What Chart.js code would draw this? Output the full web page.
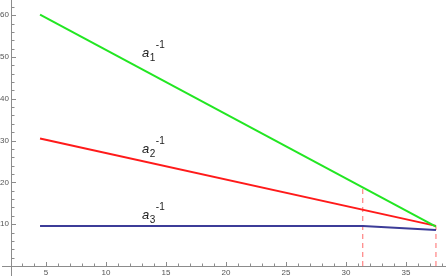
<!DOCTYPE html>
<html><head><meta charset="utf-8">
<script src="https://cdn.jsdelivr.net/npm/chart.js@4"></script>
<style>html,body{margin:0;padding:0;background:#fff}#wrap{width:446px;height:276px}</style>
</head><body><div id="wrap"><canvas id="c"></canvas></div>
<script>
// data (x = log10 scale, y = inverse coupling)
const a1X = [4.5, 37.5];        const a1Y = [60.1, 9.4];
const a2X = [4.5, 37.5];        const a2Y = [30.5, 9.6];
const a3X = [4.5, 31.4, 37.5];  const a3Y = [9.55, 9.55, 8.6];
const markX = [31.4, 37.5];     const markTop = [19.0, 9.5];
const xTicks = [5, 10, 15, 20, 25, 30, 35];
const yTicks = [10, 20, 30, 40, 50, 60];
const labelNames = ['1', '2', '3'];
const labelX = [13.0, 13.0, 13.0];
const labelY = [50.1, 27.0, 11.2];

const pts = (xs, ys) => xs.map((x, i) => ({x, y: ys[i]}));
const datasets = [
  {data: pts(a1X, a1Y), borderColor: '#22e622', borderWidth: 2},
  {data: pts(a2X, a2Y), borderColor: '#ff1a1a', borderWidth: 2},
  {data: pts(a3X, a3Y), borderColor: '#3c3c98', borderWidth: 2},
];
markX.forEach((x, i) => datasets.push({data: [{x, y: 0}, {x, y: markTop[i]}], borderColor: '#ff6a6a', borderWidth: 1, borderDash: [5, 4]}));
datasets.forEach(d => { d.showLine = true; d.pointRadius = 0; d.fill = false; d.tension = 0; });

const deco = {
  id: 'deco',
  afterDraw(chart) {
    const ctx = chart.ctx, xs = chart.scales.x, ys = chart.scales.y;
    const ax = xs.getPixelForValue(xs.min), ay = ys.getPixelForValue(0);
    ctx.save();
    ctx.strokeStyle = '#8c8c8c'; ctx.lineWidth = 1;
    ctx.beginPath();
    ctx.moveTo(Math.round(ax) + 0.5, 0); ctx.lineTo(Math.round(ax) + 0.5, 276);
    ctx.moveTo(2, Math.round(ay) + 0.5); ctx.lineTo(446, Math.round(ay) + 0.5);
    ctx.stroke();
    ctx.beginPath();
    for (let v = 3; v <= 38; v++) {
      const p = Math.round(xs.getPixelForValue(v)) + 0.5;
      const L = v % 5 === 0 ? 4 : 2.5;
      ctx.moveTo(p, Math.round(ay)); ctx.lineTo(p, Math.round(ay) - L);
    }
    for (let v = 2; v <= 62; v += 2) {
      const p = Math.round(ys.getPixelForValue(v)) + 0.5;
      const L = v % 10 === 0 ? 4 : 2.5;
      ctx.moveTo(Math.round(ax) + 1, p); ctx.lineTo(Math.round(ax) + 1 + L, p);
    }
    ctx.stroke();
    // curve labels
    ctx.fillStyle = '#222';
    ctx.textBaseline = 'alphabetic';
    labelNames.forEach((n, i) => {
      let x = xs.getPixelForValue(labelX[i]);
      const y = ys.getPixelForValue(labelY[i]);
      ctx.font = 'italic 13px "Liberation Sans", Arial, sans-serif';
      ctx.fillText('a', x, y); x += ctx.measureText('a').width + 0.5;
      ctx.font = '10px "Liberation Sans", Arial, sans-serif';
      ctx.fillText(n, x, y + 4); x += ctx.measureText(n).width + 0.5;
      ctx.fillText('-1', x, y - 9);
    });
    ctx.restore();
  }
};

new Chart(document.getElementById('c'), {
  type: 'scatter',
  data: {datasets},
  plugins: [deco],
  options: {
    responsive: true, maintainAspectRatio: false, animation: false,
    layout: {padding: {left: 0, right: 2, top: 0, bottom: 0}},
    plugins: {legend: {display: false}, tooltip: {enabled: false}},
    scales: {
      x: {
        type: 'linear', min: 2.08, max: 38.17,
        grid: {display: false, drawTicks: false}, border: {display: false},
        afterBuildTicks: s => { s.ticks = xTicks.map(v => ({value: v})); },
        afterFit: s => { s.height = 10; },
        ticks: {padding: 2, color: '#555', font: {size: 8, family: '"Liberation Sans", Arial, sans-serif'}, maxRotation: 0, autoSkip: false}
      },
      y: {
        type: 'linear', min: 0, max: 62,
        grid: {display: false, drawTicks: false}, border: {display: false},
        afterBuildTicks: s => { s.ticks = yTicks.map(v => ({value: v})); },
        afterFit: s => { s.width = 11; },
        ticks: {padding: 2, color: '#555', font: {size: 8, family: '"Liberation Sans", Arial, sans-serif'}, autoSkip: false}
      }
    }
  }
});
</script></body></html>
